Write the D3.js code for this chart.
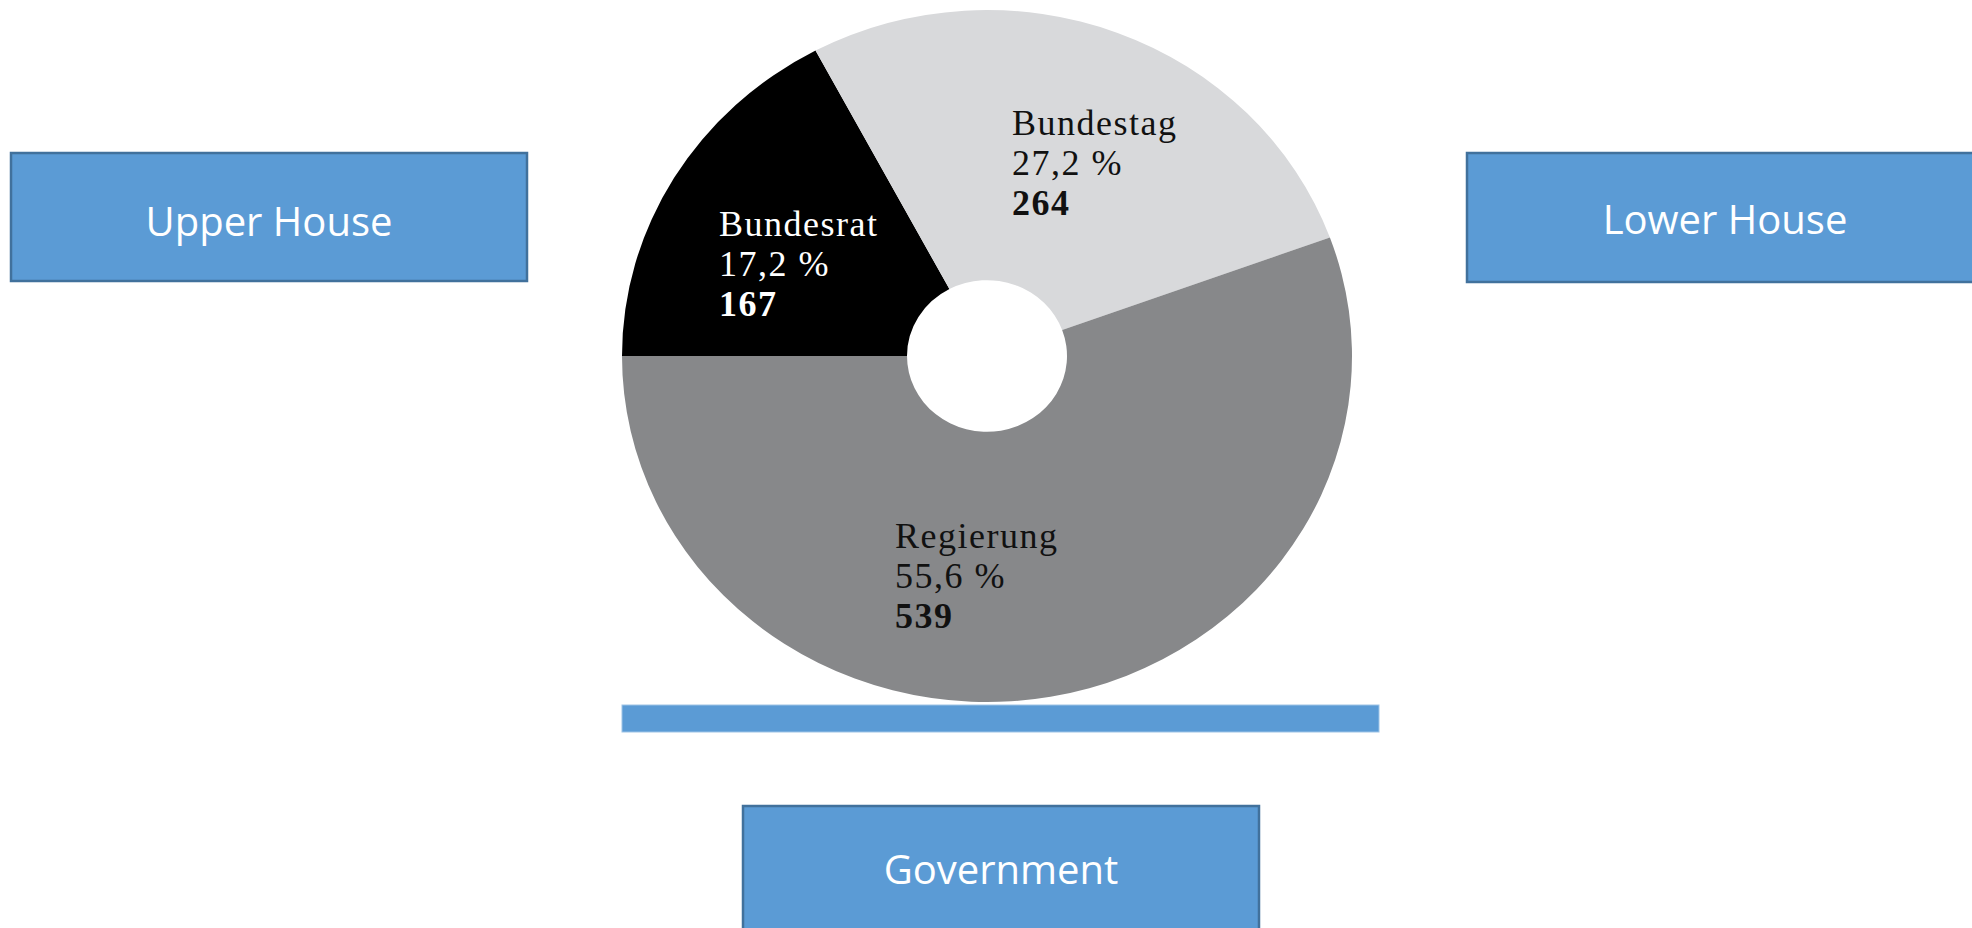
<!DOCTYPE html>
<html>
<head>
<meta charset="utf-8">
<script src="https://cdn.jsdelivr.net/npm/d3@7"></script>
<style>
  html, body { margin: 0; padding: 0; background: #fff; overflow: hidden; }
  svg { display: block; }
</style>
</head>
<body>
<script>
// seats per chamber
const chambers = ["Bundesrat", "Bundestag", "Regierung"];
const seats = [167, 264, 539];
const sliceColors = ["#000000", "#d8d9db", "#87888a"];
const labelColors = ["#ffffff", "#111111", "#111111"];

// annotation boxes (english names)
const boxNames = ["Upper House", "Lower House", "Government"];

const width = 1972, height = 928;

const svg = d3.select("body").append("svg")
    .attr("width", width)
    .attr("height", height);

// pie geometry
const cx = 987, cy = 356;
const outerR = 365, innerR = 80;
const squash = 0.948; // the source pie is a bit flattened

const total = d3.sum(seats);
const data = chambers.map((c, i) => ({ name: c, value: seats[i], color: sliceColors[i], text: labelColors[i] }));

const pie = d3.pie()
    .sort(null)
    .value(d => d.value)
    .startAngle(-Math.PI / 2)
    .endAngle(3 * Math.PI / 2);

const arc = d3.arc()
    .innerRadius(innerR)
    .outerRadius(outerR);

const g = svg.append("g")
    .attr("transform", "translate(" + cx + "," + cy + ") scale(1," + squash + ")");

g.selectAll("path")
    .data(pie(data))
    .enter().append("path")
    .attr("d", arc)
    .attr("fill", d => d.data.color);

// labels, offsets from centre of the pie (left edge, first baseline)
const labelOffset = {
  Bundesrat: [-268, -120],
  Bundestag: [25, -221],
  Regierung: [-92, 192]
};
const lineGap = 40;
const pct = v => d3.format(".1f")(v / total * 100).replace(".", ",") + " %";

const labels = svg.append("g")
    .attr("font-family", "'Liberation Serif', 'DejaVu Serif', serif")
    .attr("font-size", 36)
    .attr("letter-spacing", 1.5);

data.forEach(d => {
  const off = labelOffset[d.name];
  const t = labels.append("text")
      .attr("x", cx + off[0])
      .attr("y", cy + off[1])
      .attr("fill", d.text);
  t.append("tspan").attr("x", cx + off[0]).text(d.name);
  t.append("tspan").attr("x", cx + off[0]).attr("dy", lineGap).text(pct(d.value));
  t.append("tspan").attr("x", cx + off[0]).attr("dy", lineGap)
      .attr("font-weight", "bold").text(d.value);
});

// blue bar under the pie
svg.append("rect")
    .attr("x", 622).attr("y", 705)
    .attr("width", 757).attr("height", 27)
    .attr("fill", "#5b9bd5")
    .attr("stroke", "#9dc3e6")
    .attr("stroke-width", 1);

// the three boxes
const boxes = [
  { x: 11, y: 153, w: 516, h: 128, base: 236 },
  { x: 1467, y: 153, w: 516, h: 129, base: 234 },
  { x: 743, y: 806, w: 516, h: 130, base: 884 }
];

boxes.forEach((b, i) => {
  svg.append("rect")
      .attr("x", b.x).attr("y", b.y)
      .attr("width", b.w).attr("height", b.h)
      .attr("fill", "#5b9bd5")
      .attr("stroke", "#41719c")
      .attr("stroke-width", 2.5);
  svg.append("text")
      .attr("x", b.x + b.w / 2)
      .attr("y", b.base)
      .attr("text-anchor", "middle")
      .attr("font-family", "'Open Sans', 'Noto Sans', sans-serif")
      .attr("font-size", 40)
      .attr("fill", "#ffffff")
      .text(boxNames[i]);
});
</script>
</body>
</html>
